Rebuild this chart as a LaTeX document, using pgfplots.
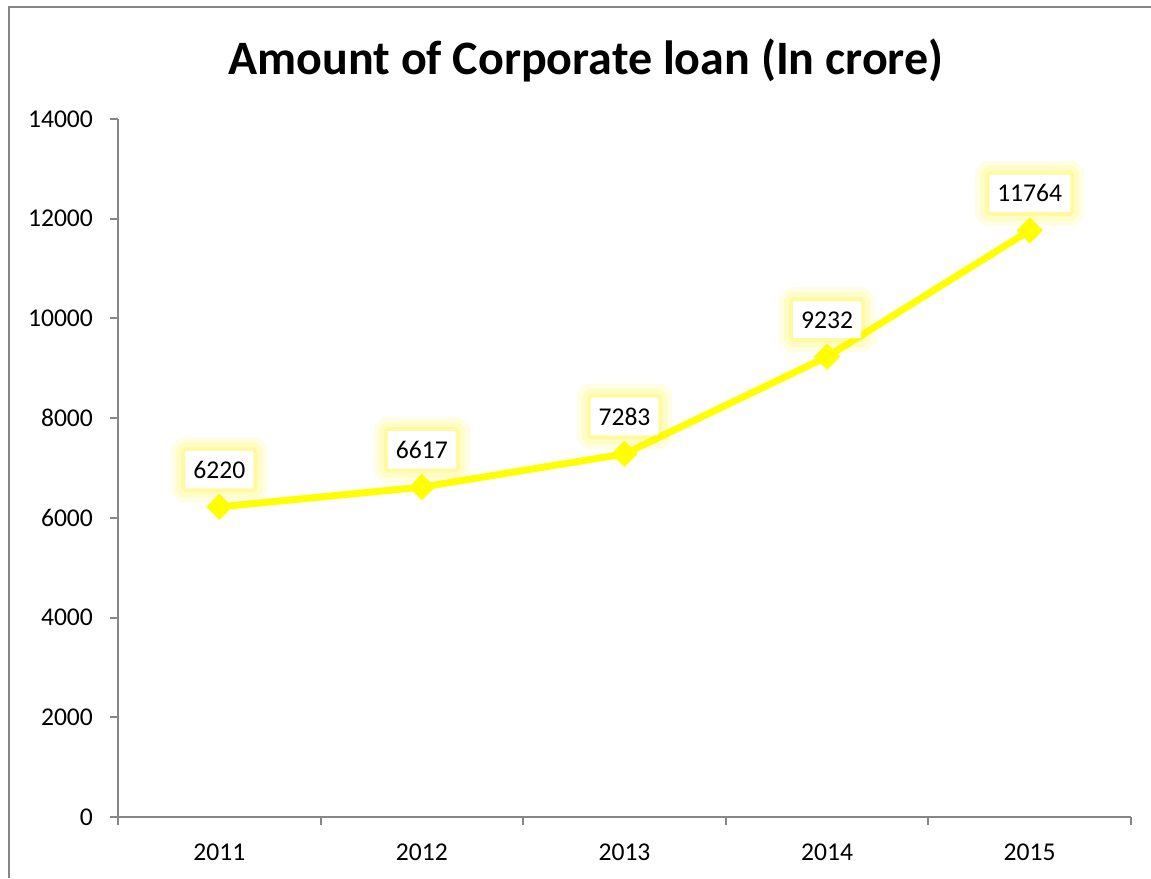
\documentclass[border=0pt]{standalone}
\usepackage{pgfplots}
\pgfplotsset{compat=1.18}
\usepackage{fontspec}
\setmainfont{Carlito}
\definecolor{axisgray}{HTML}{868686}
\definecolor{lineyellow}{HTML}{FFFF00}
\begin{document}
\begin{tikzpicture}
\useasboundingbox (0pt,0pt) rectangle (575.5pt,439pt);
\draw[axisgray, line width=1.2pt] (4.5pt,0pt) -- (4.5pt,435.5pt) -- (575.5pt,435.5pt);
\node[font=\fontsize{24}{28}\selectfont\bfseries] at (293pt,409pt) {Amount of Corporate loan (In crore)};
\begin{axis}[
  at={(59pt,30.5pt)}, anchor=south west,
  scale only axis, width=506.5pt, height=349pt,
  xmin=-0.5, xmax=4.5, ymin=0, ymax=14000,
  axis x line=bottom, axis y line=left,
  axis line style={axisgray, line width=1pt, -},
  xtick={0,1,2,3,4}, xticklabels={2011,2012,2013,2014,2015},
  minor xtick={-0.5,0.5,1.5,2.5,3.5,4.5},
  major x tick style={draw=none},
  minor tick length=4pt,
  x tick style={axisgray, line width=1pt},
  ytick={0,2000,...,14000},
  y tick style={axisgray, line width=1pt},
  major tick length=4pt,
  tick align=outside,
  scaled y ticks=false,
  /pgf/number format/1000 sep={},
  /pgf/number format/assume math mode=true,
  tick label style={font=\fontsize{12.8}{15}\selectfont, text=black},
  yticklabel style={xshift=-5pt},
  xticklabel style={yshift=-6pt},
  clip=false,
  nodes near coords,
  nodes near coords align={vertical},
  every node near coord/.style={
    anchor=south, yshift=9pt, fill=white, text=black,
    font=\fontsize{12.8}{15}\selectfont,
    inner xsep=4pt, inner ysep=5pt, rounded corners=0.5pt,
    preaction={draw=yellow, draw opacity=0.10, line width=14pt},
    preaction={draw=yellow, draw opacity=0.14, line width=9pt},
    preaction={draw=yellow, draw opacity=0.18, line width=4pt},
  },
]
\addplot[color=lineyellow, line width=3.5pt, mark=square*, mark size=4.4pt,
  mark options={rotate=45, fill=lineyellow, draw=lineyellow, line width=0.5pt}]
  coordinates {(0,6220) (1,6617) (2,7283) (3,9232) (4,11764)};
\end{axis}
\end{tikzpicture}
\end{document}
